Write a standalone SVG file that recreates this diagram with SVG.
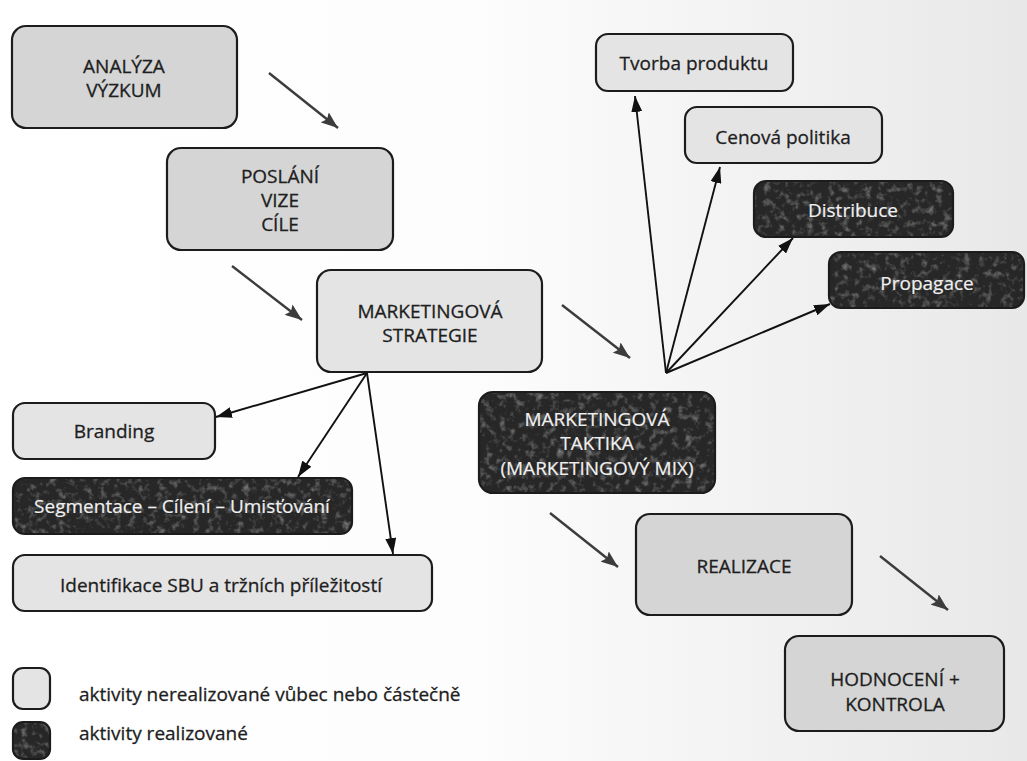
<svg xmlns="http://www.w3.org/2000/svg" width="1027" height="761" viewBox="0 0 1027 761">
<defs>
<linearGradient id="bg" x1="0" y1="0" x2="1" y2="0">
<stop offset="0" stop-color="#ffffff"/>
<stop offset="0.45" stop-color="#fdfdfd"/>
<stop offset="1" stop-color="#e8e8e8"/>
</linearGradient>
<filter id="grain" x="0" y="0" width="1" height="1">
<feTurbulence type="fractalNoise" baseFrequency="0.14" numOctaves="3" seed="4" result="n"/>
<feColorMatrix in="n" type="matrix" values="0 0 0 0 0.36  0 0 0 0 0.36  0 0 0 0 0.36  0 0 0 1.6 -0.8"/>
<feComposite in2="SourceGraphic" operator="in"/>
</filter>
<marker id="flow" viewBox="0 0 17 13" refX="17" refY="6.5" markerWidth="17" markerHeight="13" markerUnits="userSpaceOnUse" orient="auto">
<path d="M0,0 L17,6.5 L0,13 L3,6.5 z" fill="#3c3c3c"/>
</marker>
<marker id="fan" viewBox="0 0 16 11" refX="16" refY="5.5" markerWidth="16" markerHeight="11" markerUnits="userSpaceOnUse" orient="auto">
<path d="M0,0 L16,5.5 L0,11 z" fill="#111"/>
</marker>
</defs>
<style>
.box{stroke:#1c1c1c;stroke-width:2.2}
.mid{fill:#d5d5d5}
.light{fill:#e4e4e4}
.dark{fill:#272727}
.grain{fill:#000}
text{font-family:"Open Sans","Liberation Sans",sans-serif;font-size:19px;text-anchor:middle}
.tl{fill:#1e1e1e;stroke:#1e1e1e;stroke-width:0.3}
.td{fill:#f0f0f0;stroke:#f0f0f0;stroke-width:0.2}
.leg{text-anchor:start}
.flowline{stroke:#3c3c3c;stroke-width:2.4;fill:none;marker-end:url(#flow)}
.fanline{stroke:#111;stroke-width:1.9;fill:none;marker-end:url(#fan)}
</style>
<rect x="0" y="0" width="1027" height="761" fill="url(#bg)"/>

<g id="connectors">
<line class="flowline" x1="269" y1="73" x2="338" y2="128"/>
<line class="flowline" x1="232" y1="266" x2="302" y2="320"/>
<line class="flowline" x1="562" y1="305" x2="630" y2="358"/>
<line class="flowline" x1="550" y1="513" x2="618" y2="567"/>
<line class="flowline" x1="880" y1="556" x2="948" y2="610"/>
<line class="fanline" x1="666" y1="373" x2="635" y2="96"/>
<line class="fanline" x1="666" y1="373" x2="720" y2="167"/>
<line class="fanline" x1="666" y1="373" x2="793" y2="238"/>
<line class="fanline" x1="666" y1="373" x2="830" y2="304"/>
<line class="fanline" x1="367" y1="373" x2="216" y2="417"/>
<line class="fanline" x1="367" y1="373" x2="298" y2="477"/>
<line class="fanline" x1="367" y1="373" x2="393" y2="554"/>
</g>

<g id="analyza">
<rect class="box mid" x="12" y="26" width="225" height="102" rx="14"/>
<text class="tl" x="124" y="73">ANALÝZA</text>
<text class="tl" x="124" y="97">VÝZKUM</text>
</g>

<g id="poslani">
<rect class="box mid" x="167" y="148" width="226" height="102" rx="14"/>
<text class="tl" x="280" y="183">POSLÁNÍ</text>
<text class="tl" x="280" y="207">VIZE</text>
<text class="tl" x="280" y="231">CÍLE</text>
</g>

<g id="strategie">
<rect class="box light" x="317" y="270" width="225" height="102" rx="14"/>
<text class="tl" x="430" y="318">MARKETINGOVÁ</text>
<text class="tl" x="430" y="342">STRATEGIE</text>
</g>

<g id="taktika">
<rect class="dark" x="479" y="392" width="236" height="101" rx="14"/>
<rect class="grain" x="479" y="392" width="236" height="101" rx="14" filter="url(#grain)"/>
<rect class="box" fill="none" x="479" y="392" width="236" height="101" rx="14"/>
<text class="td" x="597" y="426">MARKETINGOVÁ</text>
<text class="td" x="597" y="450">TAKTIKA</text>
<text class="td" x="597" y="475">(MARKETINGOVÝ MIX)</text>
</g>

<g id="realizace">
<rect class="box mid" x="636" y="514" width="216" height="101" rx="14"/>
<text class="tl" x="744" y="573">REALIZACE</text>
</g>

<g id="hodnoceni">
<rect class="box mid" x="785" y="636" width="219" height="95" rx="14"/>
<text class="tl" x="895" y="686">HODNOCENÍ +</text>
<text class="tl" x="895" y="711">KONTROLA</text>
</g>

<g id="tvorba">
<rect class="box light" x="596" y="34" width="197" height="57" rx="12"/>
<text class="tl" x="694" y="70">Tvorba produktu</text>
</g>

<g id="cenova">
<rect class="box light" x="685" y="107" width="197" height="56" rx="12"/>
<text class="tl" x="783" y="144">Cenová politika</text>
</g>

<g id="distribuce">
<rect class="dark" x="754" y="181" width="199" height="56" rx="12"/>
<rect class="grain" x="754" y="181" width="199" height="56" rx="12" filter="url(#grain)"/>
<rect class="box" fill="none" x="754" y="181" width="199" height="56" rx="12"/>
<text class="td" x="853" y="217">Distribuce</text>
</g>

<g id="propagace">
<rect class="dark" x="829" y="252" width="195" height="56" rx="12"/>
<rect class="grain" x="829" y="252" width="195" height="56" rx="12" filter="url(#grain)"/>
<rect class="box" fill="none" x="829" y="252" width="195" height="56" rx="12"/>
<text class="td" x="927" y="290">Propagace</text>
</g>

<g id="branding">
<rect class="box light" x="13" y="403" width="202" height="56" rx="12"/>
<text class="tl" x="114" y="438">Branding</text>
</g>

<g id="segmentace">
<rect class="dark" x="13" y="478" width="339" height="56" rx="12"/>
<rect class="grain" x="13" y="478" width="339" height="56" rx="12" filter="url(#grain)"/>
<rect class="box" fill="none" x="13" y="478" width="339" height="56" rx="12"/>
<text class="td" x="182" y="513">Segmentace – Cílení – Umisťování</text>
</g>

<g id="identifikace">
<rect class="box light" x="13" y="555" width="419" height="56" rx="12"/>
<text class="tl" x="221" y="592">Identifikace SBU a tržních příležitostí</text>
</g>

<g id="legend">
<rect class="box light" x="13" y="668" width="37" height="41" rx="10"/>
<text class="tl leg" x="79" y="701">aktivity nerealizované vůbec nebo částečně</text>
<rect class="dark" x="13" y="722" width="37" height="37" rx="10"/>
<rect class="grain" x="13" y="722" width="37" height="37" rx="10" filter="url(#grain)"/>
<rect class="box" fill="none" x="13" y="722" width="37" height="37" rx="10"/>
<text class="tl leg" x="79" y="740">aktivity realizované</text>
</g>
</svg>
